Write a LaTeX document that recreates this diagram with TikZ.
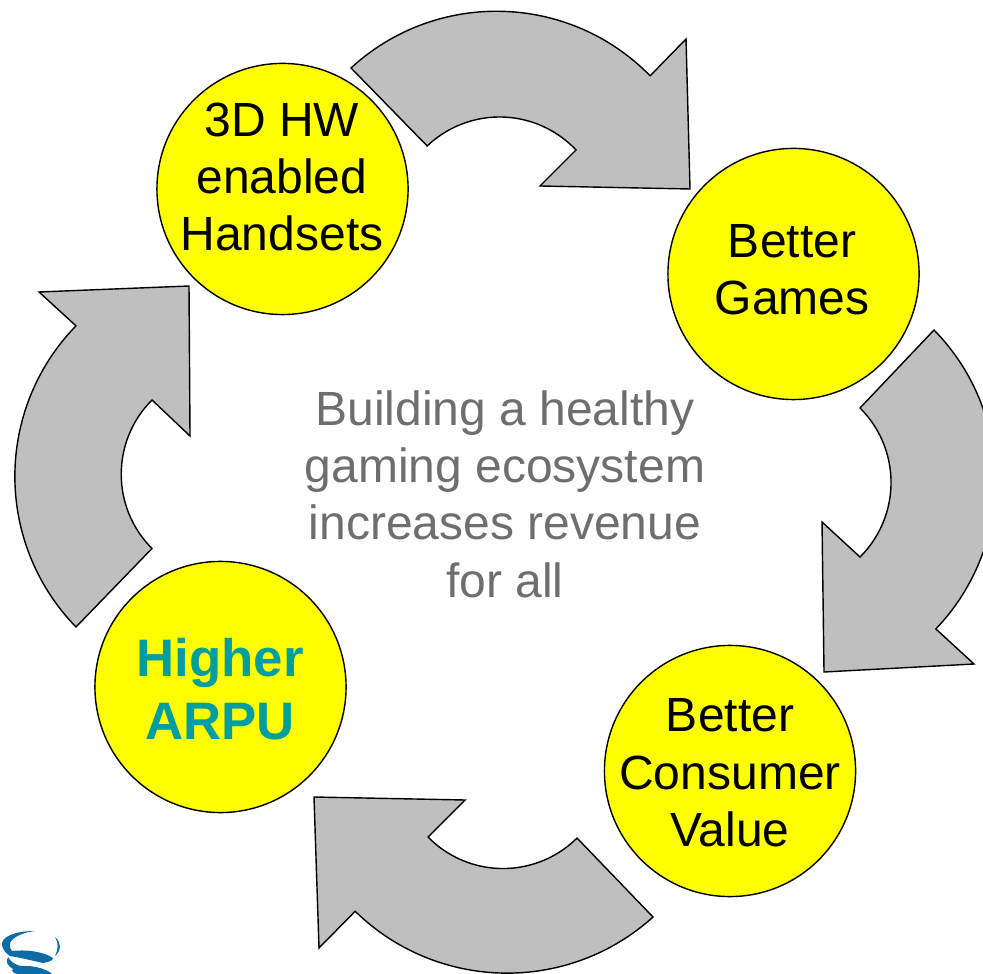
\documentclass[tikz,border=0pt]{standalone}
\usepackage{fontspec}
\setmainfont{Liberation Sans}
\definecolor{ballfill}{rgb}{1,1,0}
\definecolor{arrowgray}{rgb}{0.75,0.75,0.75}
\definecolor{textgray}{rgb}{0.43,0.43,0.43}
\definecolor{arputeal}{rgb}{0,0.62,0.62}
\definecolor{logoblue}{rgb}{0.05,0.42,0.65}
\tikzset{
  ball/.style={circle, draw=black, fill=ballfill, line width=0.4pt, minimum size=2.51cm, inner sep=0pt},
  balltext/.style={align=center, inner sep=0pt, font=\fontsize{13.65}{16.3}\selectfont},
  cyclearrow/.style={draw=black, fill=arrowgray, line width=0.4pt, line join=miter}
}

\begin{document}
\begin{tikzpicture}[x=0.01cm, y=-0.01cm]
    \useasboundingbox (0,0) rectangle (983,974);
    \clip (0,0) rectangle (983,974);

    \draw[cyclearrow] (351,68) arc[start angle=-132.6, end angle=-44.4, radius=215] -- (686,39) -- (690,189) -- (540,186) -- (576,150) arc[start angle=-43.3, end angle=-133.6, radius=105] -- cycle;
    \draw[cyclearrow] (934,330) arc[start angle=-44.4, end angle=43.7, radius=215] -- (974,664) -- (824,672) -- (822,522) -- (860,557) arc[start angle=45.2, end angle=-45.2, radius=105] -- cycle;
    \draw[cyclearrow] (653,917) arc[start angle=47.9, end angle=134.3, radius=217.6] -- (319,948) -- (314,797) -- (465,800) -- (428,837) arc[start angle=135.6, end angle=45.2, radius=105] -- cycle;
    \draw[cyclearrow] (76,627) arc[start angle=135.8, end angle=224.2, radius=216] -- (39,292) -- (189,286) -- (190,436) -- (152,400) arc[start angle=225, end angle=135, radius=105] -- cycle;

    \node[ball] (handsets) at (282.5,189) {};
    \node[ball] (games) at (793.5,274) {};
    \node[ball] (value) at (730,771) {};
    \node[ball] (arpu) at (220.5,687) {};

    \node[balltext] (handsetstext) at (282,177) {3D HW\\enabled\\Handsets};
    \node[balltext] (gamestext) at (792,270) {Better\\Games};
    \node[balltext] (valuetext) at (730,773) {Better\\Consumer\\Value};
    \node[balltext, text=arputeal, font=\fontsize{15}{17.9}\selectfont\bfseries] (arputext) at (220,689) {Higher\\ARPU};

    \node[balltext, text=textgray] (ecosystem) at (505,494) {Building a healthy\\gaming ecosystem\\increases revenue\\for all};

    % logo
    \fill[logoblue] (35,931) .. controls (14,931) and (1,937) .. (2,945) .. controls (3,951) and (7,954) .. (10,956) .. controls (22,958) and (34,961) .. (43,963) .. controls (48,962) and (53,961) .. (53,958) .. controls (46,953) and (30,949) .. (12,951) .. controls (9,947) and (9,943) .. (12,940) .. controls (17,935) and (26,932) .. (35,931) -- cycle;
    \fill[logoblue] (55,937) .. controls (61,942) and (62,950) .. (55,956) .. controls (58,950) and (59,943) .. (55,937) -- cycle;
    \fill[logoblue] (8,957) .. controls (5,962) and (8,966) .. (13,969) .. controls (11,971) and (13,973) .. (17,974) -- (52,974) .. controls (48,970) and (36,965) .. (20,966) .. controls (14,964) and (10,961) .. (8,957) -- cycle;
\end{tikzpicture}
\end{document}
